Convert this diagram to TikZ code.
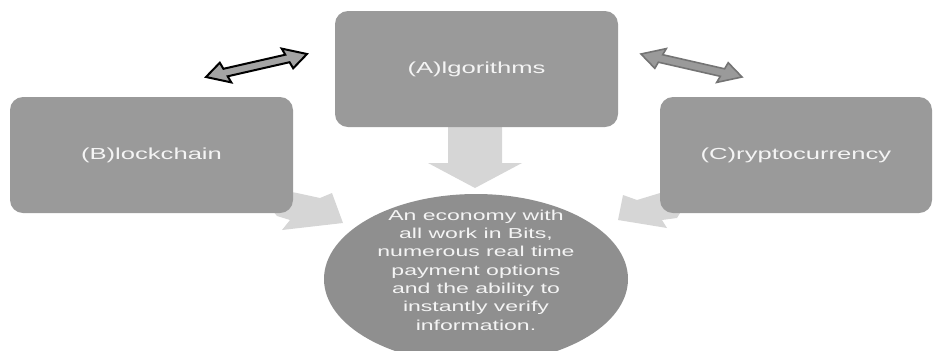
\documentclass[tikz,border=0pt]{standalone}
\usepackage{fontspec}
\setmainfont{Liberation Sans}[FakeStretch=1.6]
\usetikzlibrary{shapes.geometric}
\definecolor{boxgray}{HTML}{9A9A9A}
\definecolor{circgray}{HTML}{8F8F8F}
\definecolor{lightarrow}{HTML}{D6D6D6}
\definecolor{txtcol}{HTML}{F4F4F4}
\definecolor{dblfillA}{HTML}{A4A4A4}
\definecolor{dblfillC}{HTML}{9A9A9A}
\definecolor{dbldrawC}{HTML}{747474}
\begin{document}
\begin{tikzpicture}[x=0.5pt,y=-0.5pt,
  box/.style={draw=none, fill=boxgray, rounded corners=6.5pt, minimum height=58pt,
              inner sep=0pt, text=txtcol, font=\fontsize{8}{9.6}\selectfont},
  conv/.style={fill=lightarrow, draw=none},
  dblarrowA/.style={fill=dblfillA, draw=black, line width=1pt, line join=miter},
  dblarrowC/.style={fill=dblfillC, draw=dbldrawC, line width=0.8pt, line join=miter}]
\useasboundingbox (0,0) rectangle (933,350);

% converging light arrows (behind the boxes)
\fill[conv] (343,223) -- (332,193) -- (320,198) -- (297,193) -- (270,188) -- (268,205)
  -- (277,216) -- (290,220) -- (282,230) -- cycle;
\fill[conv] (618,220) -- (623,195) -- (637,200) -- (670,190) -- (685,205)
  -- (677,218) -- (662,220) -- (667,228) -- cycle;
\fill[conv] (448,115) -- (502,115) -- (502,163) -- (522,163) -- (475,188)
  -- (428,163) -- (448,163) -- cycle;

% boxes
\node[box, minimum width=141.5pt] (alg) at (476.5,69) {(A)lgorithms};
\node[box, minimum width=141.5pt] (blk) at (151.5,155) {(B)lockchain};
\node[box, minimum width=136pt] (cry) at (796,155) {(C)ryptocurrency};

% central ellipse
\begin{scope}
\clip (0,0) rectangle (933,350);
\node[ellipse, fill=circgray, draw=none, minimum width=152pt, minimum height=85pt,
      inner sep=0pt] (eco) at (476,279) {};
\end{scope}
\node[align=center, text=txtcol, font=\fontsize{7.2}{9.15}\selectfont, inner sep=0pt]
  (ecotext) at (476,270) {An economy with\\all work in Bits,\\numerous real time\\payment options\\and the ability to\\instantly verify\\information.};

% double arrows
\draw[dblarrowA] (206,77) -- (219.8,62.7) -- (223.4,68.8) -- (285.3,54.7) -- (281.7,48.6)
  -- (307,54) -- (293.2,68.3) -- (289.6,62.2) -- (227.7,76.3) -- (231.3,82.4) -- cycle;
\draw[dblarrowC] (742,77) -- (728.2,62.7) -- (724.6,68.8) -- (662.7,54.7) -- (666.3,48.6)
  -- (641,54) -- (654.8,68.3) -- (658.4,62.2) -- (720.3,76.3) -- (716.7,82.4) -- cycle;
\end{tikzpicture}
\end{document}
